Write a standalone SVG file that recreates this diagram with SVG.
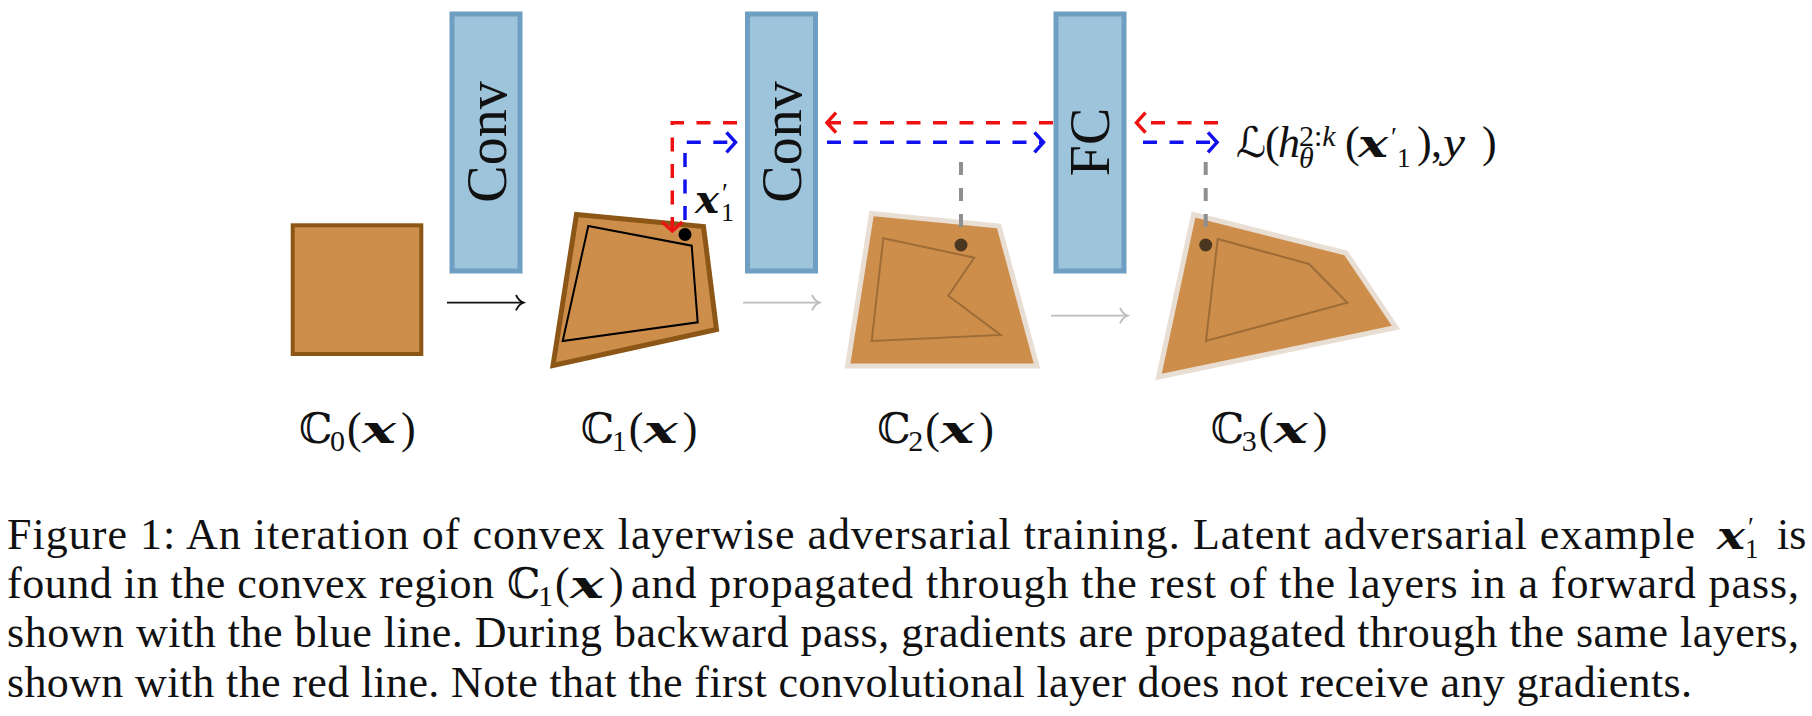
<svg xmlns="http://www.w3.org/2000/svg" width="1812" height="716" viewBox="0 0 1812 716">
<style>
.layer{fill:#9EC4DB;stroke:#6E9FC2;stroke-width:5}
.lt{font-family:"Liberation Serif","Times New Roman",serif;font-size:56px;fill:#111;text-anchor:middle}
.reg{fill:#CD8E4B}
.regA{stroke:#8C5617;stroke-width:5;stroke-linejoin:miter}
.regB{stroke:#E9DED4;stroke-width:5;stroke-linejoin:miter}
.inB{fill:none;stroke:#8E6030;stroke-opacity:0.75;stroke-width:2}
.m{font-family:"Liberation Serif","Times New Roman",serif;font-size:44px;fill:#111}
.bb{font-family:"DejaVu Serif","DejaVu Sans",serif;font-size:42px;fill:#111}
.sub{font-size:30px}
.bx{font-family:"DejaVu Serif","Liberation Serif",serif;font-weight:bold;font-style:italic;font-size:40px}
.it{font-style:italic}
.cap{font-family:"Liberation Serif","Times New Roman",serif;font-size:44px;fill:#111}
.red{fill:none;stroke:#EE1111;stroke-width:3.5;stroke-dasharray:14 12.5}
.blue{fill:none;stroke:#1111EE;stroke-width:3.5;stroke-dasharray:14 12.5}
.gdash{fill:none;stroke:#8F8F8F;stroke-width:4;stroke-dasharray:13 13}
.fw{fill:none;stroke:#111;stroke-width:1.8}
.fg{fill:none;stroke:#BDBDBD;stroke-width:1.8}
</style>
<defs>
<marker id="mr" markerUnits="userSpaceOnUse" markerWidth="30" markerHeight="30" refX="0" refY="0" viewBox="-15 -15 30 30" orient="auto" overflow="visible">
<path d="M-9,-10 L0,0 L-9,10" fill="none" stroke="#EE1111" stroke-width="3.5"/>
</marker>
<marker id="mb" markerUnits="userSpaceOnUse" markerWidth="30" markerHeight="30" refX="0" refY="0" viewBox="-15 -15 30 30" orient="auto" overflow="visible">
<path d="M-9,-10 L0,0 L-9,10" fill="none" stroke="#1111EE" stroke-width="3.5"/>
</marker>
<marker id="mk" markerUnits="userSpaceOnUse" markerWidth="20" markerHeight="20" refX="0" refY="0" viewBox="-10 -10 20 20" orient="auto" overflow="visible">
<path d="M-7.5,-7.7 C-5.5,-3.5 -3,-1 0,0 C-3,1 -5.5,3.5 -7.5,7.7" fill="none" stroke="#111" stroke-width="1.8"/>
</marker>
<marker id="mg" markerUnits="userSpaceOnUse" markerWidth="20" markerHeight="20" refX="0" refY="0" viewBox="-10 -10 20 20" orient="auto" overflow="visible">
<path d="M-7.5,-7.7 C-5.5,-3.5 -3,-1 0,0 C-3,1 -5.5,3.5 -7.5,7.7" fill="none" stroke="#BDBDBD" stroke-width="1.8"/>
</marker>
</defs>

<g id="conv1">
<rect class="layer" x="452" y="14" width="68" height="257"/>
<text class="lt" transform="translate(506,142) rotate(-90)">Conv</text>
</g>
<g id="conv2">
<rect class="layer" x="747.5" y="14" width="68" height="257"/>
<text class="lt" transform="translate(801,142) rotate(-90)">Conv</text>
</g>
<g id="fc">
<rect class="layer" x="1056" y="14" width="68" height="257"/>
<text class="lt" transform="translate(1109,142) rotate(-90)">FC</text>
</g>

<g id="c0">
<rect class="reg" x="292.7" y="225.3" width="128.6" height="128.7" stroke="#8C5617" stroke-width="4"/>
<g class="m"><text class="bb" x="299" y="443">ℂ</text><text class="sub" x="330" y="451">0</text><text x="347" y="443">(</text><text class="bx" x="362" y="443" textLength="34" lengthAdjust="spacingAndGlyphs">x</text><text x="401" y="443">)</text></g>
</g>
<g id="c1">
<polygon class="reg regA" points="576.5,214.5 703.5,226.5 716.5,329.5 553,365.5"/>
<polygon points="588.3,226 691.7,245.7 697.7,322.3 562.7,341" fill="none" stroke="#000" stroke-width="2"/>
<circle cx="685" cy="234.5" r="6.5" fill="#000"/>
<g class="m"><text class="bx" x="695" y="213" font-size="38" textLength="24" lengthAdjust="spacingAndGlyphs">x</text><text x="722" y="202" font-size="27">′</text><text x="721" y="221" font-size="26">1</text></g>
<g class="m" transform="translate(281.7,0)"><text class="bb" x="299" y="443">ℂ</text><text class="sub" x="330" y="451">1</text><text x="347" y="443">(</text><text class="bx" x="362" y="443" textLength="34" lengthAdjust="spacingAndGlyphs">x</text><text x="401" y="443">)</text></g>
</g>
<g id="c2">
<polygon class="reg regB" points="871.5,213.5 999,226 1037,366 847.5,366"/>
<polygon class="inB" points="883.3,238.3 974.3,257.7 948.3,295.7 1000.7,335 871.7,341"/>
<circle cx="961" cy="245" r="6.5" fill="#4B3620"/>
<g class="m" transform="translate(578.3,0)"><text class="bb" x="299" y="443">ℂ</text><text class="sub" x="330" y="451">2</text><text x="347" y="443">(</text><text class="bx" x="362" y="443" textLength="34" lengthAdjust="spacingAndGlyphs">x</text><text x="401" y="443">)</text></g>
</g>
<g id="c3">
<polygon class="reg regB" points="1193.5,214.5 1346,253 1396,327.5 1158.5,377"/>
<polygon class="inB" points="1217.7,239 1309,264 1347.3,302.7 1206,341"/>
<circle cx="1205.7" cy="245" r="6.5" fill="#4B3620"/>
<g class="m" transform="translate(911.7,0)"><text class="bb" x="299" y="443">ℂ</text><text class="sub" x="330" y="451">3</text><text x="347" y="443">(</text><text class="bx" x="362" y="443" textLength="34" lengthAdjust="spacingAndGlyphs">x</text><text x="401" y="443">)</text></g>
</g>

<g id="loss" class="m">
<text class="bb" x="1236" y="157" font-size="44">ℒ</text>
<text x="1265" y="157">(</text>
<text class="it" x="1278" y="157">h</text>
<text class="sub" x="1299" y="146">2:<tspan class="it">k</tspan></text>
<text class="sub it" x="1299" y="168" font-size="27">θ</text>
<text x="1345" y="157">(</text>
<text class="bx" x="1358" y="157" textLength="30" lengthAdjust="spacingAndGlyphs">x</text>
<text x="1391" y="146" font-size="27">′</text>
<text x="1397" y="167" font-size="27">1</text>
<text x="1417" y="157">)</text>
<text x="1431" y="157">,</text>
<text class="it" x="1443" y="157" textLength="22" lengthAdjust="spacingAndGlyphs">y</text>
<text x="1482" y="157">)</text>
</g>

<g id="connectors">
<path class="fw" d="M447,302.7 H523.5" marker-end="url(#mk)"/>
<path class="fg" d="M743,302.7 H819.5" marker-end="url(#mg)"/>
<path class="fg" d="M1051,315.7 H1127.5" marker-end="url(#mg)"/>
<path class="red" d="M737,122.7 H672.3 V231" marker-end="url(#mr)"/>
<path class="red" d="M1053,122.7 H827" marker-end="url(#mr)"/>
<path class="red" d="M1218,122.7 H1136.5" marker-end="url(#mr)"/>
<path class="blue" d="M685,220 V142.3 H735.5" marker-end="url(#mb)"/>
<path class="blue" d="M827,142.3 H1043.5" marker-end="url(#mb)"/>
<path class="blue" d="M1143,142.3 H1217" marker-end="url(#mb)"/>
<path class="gdash" d="M961,162 V228"/>
<path class="gdash" d="M1205.7,162 V228"/>
</g>

<g id="caption" class="cap">
<text x="7" y="549" textLength="1688" lengthAdjust="spacing">Figure 1:  An iteration of convex layerwise adversarial training. Latent adversarial example</text>
<text class="bx" x="1717" y="549" textLength="28" lengthAdjust="spacingAndGlyphs">x</text>
<text x="1748" y="536" font-size="27">′</text>
<text x="1745" y="558" font-size="27">1</text>
<text x="1777" y="549">is</text>
<text x="7" y="598" textLength="487" lengthAdjust="spacing">found in the convex region</text>
<text class="bb" x="507" y="598">ℂ</text>
<text class="sub" x="538" y="606">1</text>
<text x="555" y="598">(</text>
<text class="bx" x="570" y="598" textLength="34" lengthAdjust="spacingAndGlyphs">x</text>
<text x="609" y="598">)</text>
<text x="631" y="598" textLength="1168" lengthAdjust="spacing">and propagated through the rest of the layers in a forward pass,</text>
<text x="7" y="647" textLength="1792" lengthAdjust="spacing">shown with the blue line. During backward pass, gradients are propagated through the same layers,</text>
<text x="7" y="697" textLength="1685" lengthAdjust="spacing">shown with the red line. Note that the first convolutional layer does not receive any gradients.</text>
</g>
</svg>
